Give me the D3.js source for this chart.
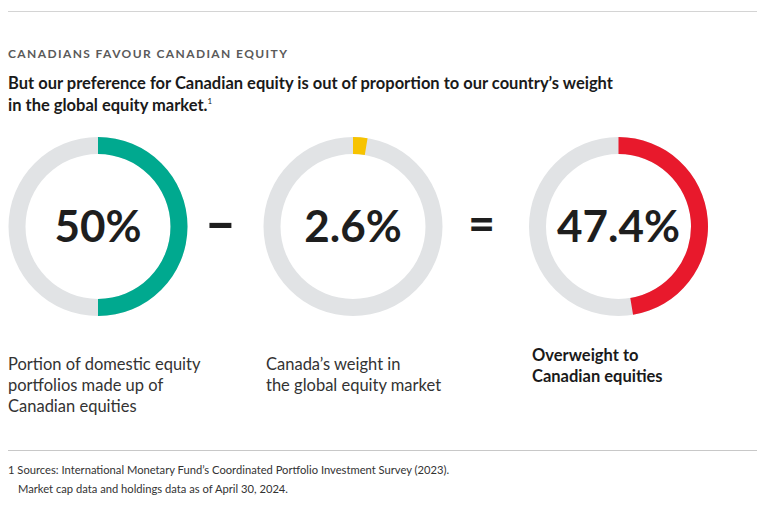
<!DOCTYPE html>
<html><head><meta charset="utf-8">
<script src="https://cdn.jsdelivr.net/npm/d3@7"></script>
<style>
html,body{margin:0;padding:0;background:#fff;}
svg{display:block;font-family:Lato,"Open Sans",sans-serif;}
</style></head>
<body>
<svg id="chart" width="780" height="505"></svg>
<script>
// ---- data ----
const kicker = "CANADIANS FAVOUR CANADIAN EQUITY";
const headline = ["But our preference for Canadian equity is out of proportion to our country\u2019s weight", "in the global equity market."];
const categories = ["Domestic portfolios", "Canada weight", "Overweight"];
const values = [50, 2.6, 47.4];
const valueLabels = ["50%", "2.6%", "47.4%"];
const operators = ["\u2013", "="];
const descriptions = [
  ["Portion of domestic equity", "portfolios made up of", "Canadian equities"],
  ["Canada\u2019s weight in", "the global equity market"],
  ["Overweight to", "Canadian equities"]
];
const footnotes = [
  "1 Sources: International Monetary Fund\u2019s Coordinated Portfolio Investment Survey (2023).",
  "Market cap data and holdings data as of April 30, 2024."
];

// ---- styles ----
const colors = ["#00A98F", "#F7C300", "#E8192C"];
const trackColor = "#E1E3E5";
const svg = d3.select("#chart");

const centerX = d3.scaleOrdinal().domain(categories).range([98, 353, 618.5]);
const cy = 226.5;
const outerR = 89.5, innerR = 72.5;
const angle = d3.scaleLinear().domain([0, 100]).range([0, 2 * Math.PI]);
const arc = d3.arc().innerRadius(innerR).outerRadius(outerR);

// rules
svg.append("line").attr("x1", 8).attr("x2", 757).attr("y1", 11.5).attr("y2", 11.5)
  .attr("stroke", "#d4d4d4").attr("stroke-width", 1.2);
svg.append("line").attr("x1", 8).attr("x2", 757).attr("y1", 450.5).attr("y2", 450.5)
  .attr("stroke", "#c8c8c8").attr("stroke-width", 1.2);

// kicker
svg.append("text").attr("x", 8).attr("y", 58).text(kicker)
  .attr("font-size", 12).attr("font-weight", 700).attr("fill", "#5a5a5a").attr("letter-spacing", 1.4);

// headline
const h = svg.append("text").attr("font-size", 16.5).attr("font-weight", 700).attr("fill", "#1a1a1a");
h.append("tspan").attr("x", 8).attr("y", 89).text(headline[0]);
h.append("tspan").attr("x", 8).attr("y", 111).text(headline[1]);
h.append("tspan").attr("font-size", 8).attr("dy", -7).attr("font-weight", 400).text("1");

// donuts
const g = svg.selectAll("g.donut").data(categories).join("g").attr("class", "donut")
  .attr("transform", d => `translate(${centerX(d)},${cy})`);
g.append("path").attr("d", arc({startAngle: 0, endAngle: 2 * Math.PI})).attr("fill", trackColor);
g.append("path").attr("d", (d, i) => arc({startAngle: 0, endAngle: angle(values[i])}))
  .attr("fill", (d, i) => colors[i]);
g.append("text").attr("text-anchor", "middle").attr("y", 15)
  .attr("font-size", 44).attr("font-weight", 700).attr("fill", "#1e1e1e")
  .text((d, i) => valueLabels[i]);

// operators
const opX = [220.5, 481.5];
const opSize = [54, 46];
svg.selectAll("text.op").data(operators).join("text").attr("class", "op")
  .attr("x", (d, i) => opX[i]).attr("y", (d, i) => cy + (i === 0 ? 15 : 13)).attr("text-anchor", "middle")
  .attr("font-size", (d, i) => opSize[i]).attr("font-weight", 900).attr("fill", "#1e1e1e").text(d => d);

// descriptions
const descX = [8, 266, 532];
const descY = [370, 370, 361];
descriptions.forEach((lines, i) => {
  const t = svg.append("text").attr("font-size", 16.5).attr("fill", i === 2 ? "#1a1a1a" : "#333")
    .attr("font-weight", i === 2 ? 700 : 400);
  lines.forEach((l, j) => t.append("tspan").attr("x", descX[i]).attr("y", descY[i] + j * 20.8).text(l));
});

// footnotes
svg.append("text").attr("x", 8).attr("y", 474).attr("font-size", 11.2).attr("fill", "#333").text(footnotes[0]);
svg.append("text").attr("x", 18).attr("y", 493).attr("font-size", 11.2).attr("fill", "#333").text(footnotes[1]);
</script>
</body></html>
